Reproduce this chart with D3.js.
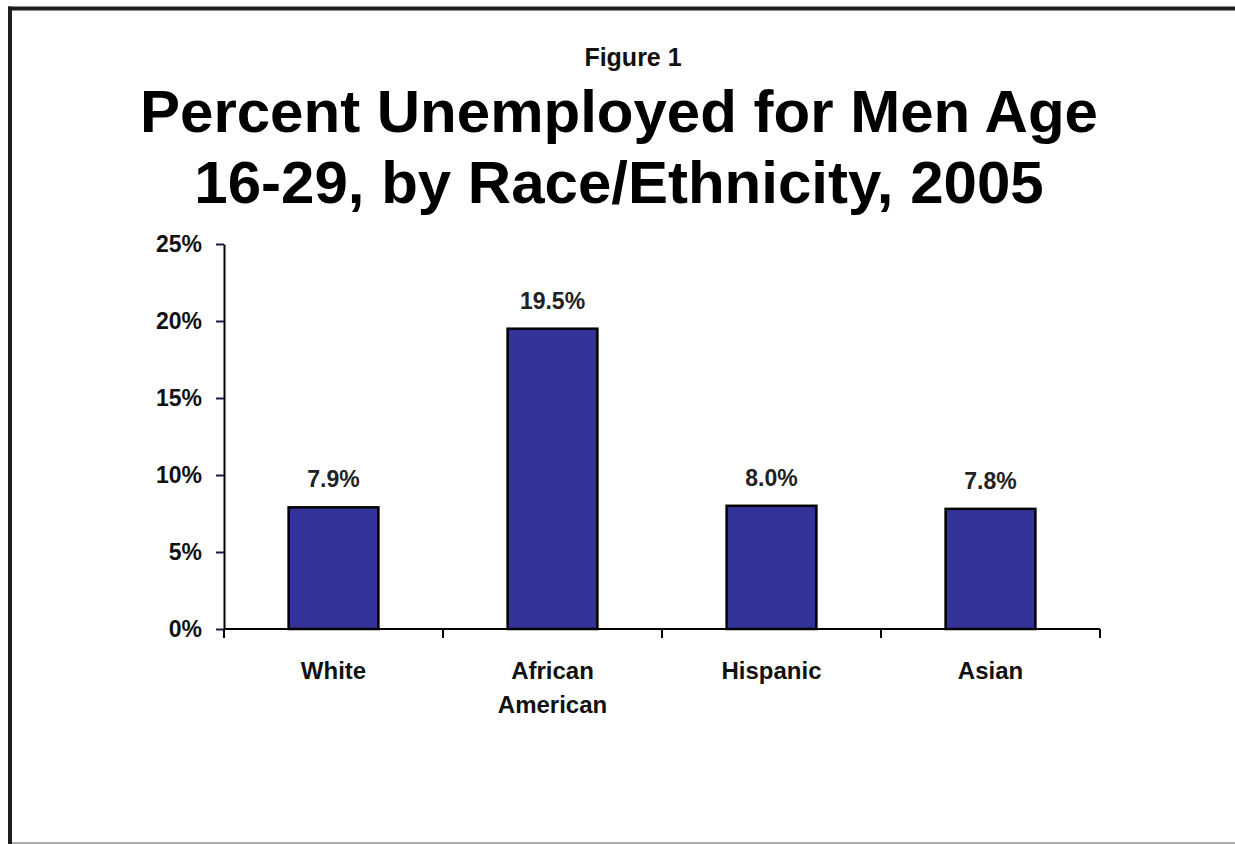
<!DOCTYPE html>
<html>
<head>
<meta charset="utf-8">
<script src="https://cdn.jsdelivr.net/npm/d3@7"></script>
<style>
  html, body { margin: 0; padding: 0; background: #fff; }
  svg { display: block; }
  text { font-family: "Liberation Sans", Arial, sans-serif; font-weight: bold; }
</style>
</head>
<body>
<script>
// data
const categories = ["White", "African American", "Hispanic", "Asian"];
const categoryLines = [["White"], ["African", "American"], ["Hispanic"], ["Asian"]];
const values = [7.9, 19.5, 8.0, 7.8];
const yTicks = [0, 5, 10, 15, 20, 25];
const titleLines = ["Percent Unemployed for Men Age", "16-29, by Race/Ethnicity, 2005"];
const figureLabel = "Figure 1";

const width = 1235;
const height = 844;

const svg = d3.select("body").append("svg")
  .attr("width", width)
  .attr("height", height);

// frame (left + top border, thin grey bottom)
svg.append("line").attr("x1", 10).attr("x2", 10).attr("y1", 6.5).attr("y2", height)
  .attr("stroke", "#1e1e1e").attr("stroke-width", 4);
svg.append("line").attr("x1", 8).attr("x2", width).attr("y1", 8.5).attr("y2", 8.5)
  .attr("stroke", "#1e1e1e").attr("stroke-width", 4);
svg.append("line").attr("x1", 12).attr("x2", width).attr("y1", 843).attr("y2", 843)
  .attr("stroke", "#b0b0b0").attr("stroke-width", 2);

// titles
svg.append("text")
  .attr("x", 633).attr("y", 66)
  .attr("text-anchor", "middle")
  .attr("font-size", 25)
  .attr("fill", "#111")
  .text(figureLabel);

svg.selectAll(".title")
  .data(titleLines)
  .enter()
  .append("text")
  .attr("class", "title")
  .attr("x", 619)
  .attr("y", (d, i) => 132 + i * 71)
  .attr("text-anchor", "middle")
  .attr("font-size", 60)
  .attr("fill", "#000")
  .text(d => d);

// scales
const x = d3.scaleBand()
  .domain(categories)
  .range([224, 1100])
  .paddingInner(0.59)
  .paddingOuter(0.295);

const y = d3.scaleLinear()
  .domain([0, 25])
  .range([629, 244]);

// y axis
const yAxis = d3.axisLeft(y)
  .tickValues(yTicks)
  .tickFormat(d => d + "%")
  .tickSize(8)
  .tickSizeOuter(0)
  .tickPadding(14);

const gy = svg.append("g")
  .attr("transform", "translate(224,0)")
  .call(yAxis);
gy.select(".domain").attr("stroke", "#000").attr("stroke-width", 2);
gy.selectAll(".tick line").attr("stroke", "#1a1a4a").attr("stroke-width", 2);
gy.selectAll(".tick text")
  .attr("font-size", 23)
  .attr("font-family", "'Liberation Sans', Arial, sans-serif")
  .attr("font-weight", "bold")
  .attr("fill", "#111");

// bars
svg.selectAll(".bar")
  .data(values)
  .enter()
  .append("rect")
  .attr("class", "bar")
  .attr("x", (d, i) => x(categories[i]))
  .attr("y", d => y(d))
  .attr("width", x.bandwidth())
  .attr("height", d => y(0) - y(d))
  .attr("fill", "#333399")
  .attr("stroke", "#000")
  .attr("stroke-width", 2.5);

// x axis: line with ticks at category boundaries
const bounds = d3.range(categories.length + 1)
  .map(i => x.range()[0] + i * x.step());

svg.append("line")
  .attr("x1", x.range()[0]).attr("x2", x.range()[1])
  .attr("y1", y(0)).attr("y2", y(0))
  .attr("stroke", "#000").attr("stroke-width", 2);

svg.selectAll(".xtick")
  .data(bounds)
  .enter()
  .append("line")
  .attr("class", "xtick")
  .attr("x1", d => d).attr("x2", d => d)
  .attr("y1", y(0)).attr("y2", y(0) + 9)
  .attr("stroke", "#000").attr("stroke-width", 2);

// value labels
svg.selectAll(".val")
  .data(values)
  .enter()
  .append("text")
  .attr("class", "val")
  .attr("x", (d, i) => x(categories[i]) + x.bandwidth() / 2)
  .attr("y", d => y(d) - 20)
  .attr("text-anchor", "middle")
  .attr("font-size", 23)
  .attr("fill", "#222")
  .text(d => d.toFixed(1) + "%");

// category labels
const cat = svg.selectAll(".cat")
  .data(categoryLines)
  .enter()
  .append("text")
  .attr("class", "cat")
  .attr("text-anchor", "middle")
  .attr("font-size", 24)
  .attr("fill", "#111");

cat.selectAll("tspan")
  .data((d, i) => d.map(s => ({ s: s, c: categories[i] })))
  .enter()
  .append("tspan")
  .attr("x", d => x(d.c) + x.bandwidth() / 2)
  .attr("y", (d, j) => y(0) + 50 + j * 34)
  .text(d => d.s);
</script>
</body>
</html>
